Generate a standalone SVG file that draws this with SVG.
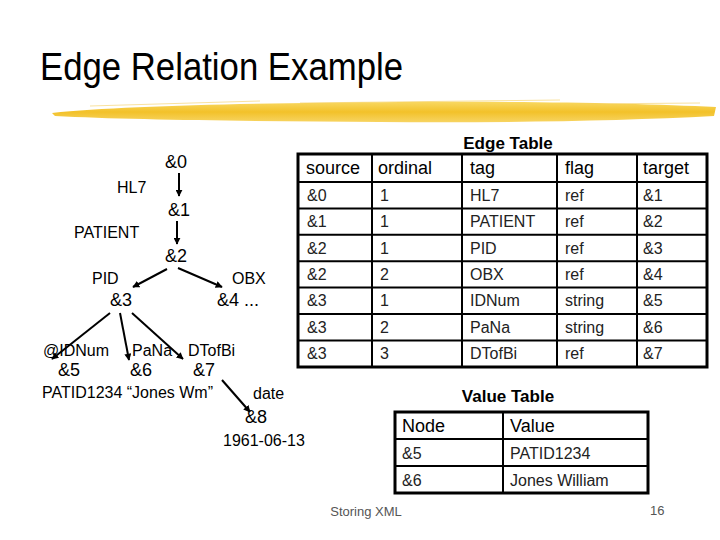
<svg xmlns="http://www.w3.org/2000/svg" width="720" height="540" viewBox="0 0 720 540">
<defs>
<linearGradient id="brush" x1="0" y1="0" x2="0" y2="1">
<stop offset="0" stop-color="#F8D65A"/>
<stop offset="0.5" stop-color="#F2BE1E"/>
<stop offset="1" stop-color="#F7D25A"/>
</linearGradient>
<marker id="ah" viewBox="0 0 10 10" refX="9" refY="5" markerWidth="7" markerHeight="7" markerUnits="userSpaceOnUse" orient="auto">
<path d="M0,0 L10,5 L0,10 z" fill="#000"/>
</marker>
<style>
.t{font-family:"Liberation Sans",Arial,sans-serif;fill:#000}
.node{font-size:18px}
.lbl{font-size:16px}
.hd{font-size:18px}
.cell{font-size:16px;fill:#222}
.cap{font-size:17px;font-weight:bold}
.edge{stroke:#000;stroke-width:2;fill:none;marker-end:url(#ah)}
.outer{fill:none;stroke:#000;stroke-width:3}
.inner{stroke:#000;stroke-width:2}
.foot{font-size:13px;fill:#555}
</style>
</defs>
<rect width="720" height="540" fill="#fff"/>
<text class="t" x="40" y="80" font-size="38" textLength="363" lengthAdjust="spacingAndGlyphs">Edge Relation Example</text>
<path d="M52,113 C120,106 250,103 400,102 C520,101 640,103 716,107 L714,116 C620,121 500,123 380,122 C250,121 130,120 55,116 Z" fill="url(#brush)" opacity="0.95"/>
<path d="M90,106 L260,101 M300,103 L560,100 M580,104 L700,103" stroke="#F6D060" stroke-width="1" opacity="0.6"/>

<g id="connectors">
<line class="edge" x1="179" y1="173" x2="179" y2="196"/>
<line class="edge" x1="177" y1="221" x2="177" y2="244"/>
<line class="edge" x1="167" y1="269" x2="133" y2="287"/>
<line class="edge" x1="178" y1="268" x2="222" y2="287"/>
<line class="edge" x1="110" y1="313" x2="52" y2="359"/>
<line class="edge" x1="120" y1="313" x2="129" y2="360"/>
<line class="edge" x1="132" y1="313" x2="183" y2="359"/>
<line class="edge" x1="222" y1="380" x2="250" y2="412"/>
</g>

<g id="n0"><text class="t node" x="165" y="168">&amp;0</text></g>
<g id="n1"><text class="t node" x="168" y="216">&amp;1</text></g>
<g id="n2"><text class="t node" x="165" y="262">&amp;2</text></g>
<g id="n3"><text class="t node" x="110" y="306">&amp;3</text></g>
<g id="n4"><text class="t node" x="217" y="306">&amp;4  ...</text></g>
<g id="n5"><text class="t node" x="58" y="376">&amp;5</text></g>
<g id="n6"><text class="t node" x="130" y="376">&amp;6</text></g>
<g id="n7"><text class="t node" x="193" y="376">&amp;7</text></g>
<g id="n8"><text class="t node" x="245" y="423">&amp;8</text></g>

<g id="labels">
<text class="t lbl" x="117" y="193">HL7</text>
<text class="t lbl" x="74" y="238">PATIENT</text>
<text class="t lbl" x="92" y="284">PID</text>
<text class="t lbl" x="232" y="284">OBX</text>
<text class="t lbl" x="43" y="356">@IDNum</text>
<text class="t lbl" x="132" y="356">PaNa</text>
<text class="t lbl" x="188" y="356">DTofBi</text>
<text class="t lbl" x="42" y="398">PATID1234 “Jones Wm”</text>
<text class="t lbl" x="253" y="399">date</text>
<text class="t lbl" x="223" y="446">1961-06-13</text>
</g>

<g id="edge-table">
<text class="t cap" x="508" y="149" text-anchor="middle">Edge Table</text>
<rect class="outer" x="298" y="154" width="409" height="213" fill="#fff"/>
<g class="inner">
<line x1="298" y1="182" x2="707" y2="182"/>
<line x1="298" y1="208.4" x2="707" y2="208.4"/>
<line x1="298" y1="234.8" x2="707" y2="234.8"/>
<line x1="298" y1="261.2" x2="707" y2="261.2"/>
<line x1="298" y1="287.6" x2="707" y2="287.6"/>
<line x1="298" y1="314" x2="707" y2="314"/>
<line x1="298" y1="340.4" x2="707" y2="340.4"/>
<line x1="372" y1="154" x2="372" y2="367"/>
<line x1="462" y1="154" x2="462" y2="367"/>
<line x1="557" y1="154" x2="557" y2="367"/>
<line x1="637" y1="154" x2="637" y2="367"/>
</g>
<g class="t hd">
<text x="306" y="174">source</text><text x="378" y="174">ordinal</text><text x="470" y="174">tag</text><text x="565" y="174">flag</text><text x="643" y="174">target</text>
</g>
<g class="t cell">
<text x="307" y="201">&amp;0</text><text x="380" y="201">1</text><text x="470" y="201">HL7</text><text x="565" y="201">ref</text><text x="643" y="201">&amp;1</text>
<text x="307" y="227">&amp;1</text><text x="380" y="227">1</text><text x="470" y="227">PATIENT</text><text x="565" y="227">ref</text><text x="643" y="227">&amp;2</text>
<text x="307" y="254">&amp;2</text><text x="380" y="254">1</text><text x="470" y="254">PID</text><text x="565" y="254">ref</text><text x="643" y="254">&amp;3</text>
<text x="307" y="280">&amp;2</text><text x="380" y="280">2</text><text x="470" y="280">OBX</text><text x="565" y="280">ref</text><text x="643" y="280">&amp;4</text>
<text x="307" y="306">&amp;3</text><text x="380" y="306">1</text><text x="470" y="306">IDNum</text><text x="565" y="306">string</text><text x="643" y="306">&amp;5</text>
<text x="307" y="333">&amp;3</text><text x="380" y="333">2</text><text x="470" y="333">PaNa</text><text x="565" y="333">string</text><text x="643" y="333">&amp;6</text>
<text x="307" y="359">&amp;3</text><text x="380" y="359">3</text><text x="470" y="359">DTofBi</text><text x="565" y="359">ref</text><text x="643" y="359">&amp;7</text>
</g>
</g>

<g id="value-table">
<text class="t cap" x="508" y="402" text-anchor="middle">Value Table</text>
<rect class="outer" x="395" y="412" width="253" height="81" fill="#fff"/>
<g class="inner">
<line x1="395" y1="439" x2="648" y2="439"/>
<line x1="395" y1="466" x2="648" y2="466"/>
<line x1="503" y1="412" x2="503" y2="493"/>
</g>
<g class="t hd"><text x="402" y="432">Node</text><text x="510" y="432">Value</text></g>
<g class="t cell">
<text x="402" y="459">&amp;5</text><text x="510" y="459">PATID1234</text>
<text x="402" y="486">&amp;6</text><text x="510" y="486">Jones William</text>
</g>
</g>

<text class="t foot" x="366" y="516" text-anchor="middle">Storing XML</text>
<text class="t foot" x="650" y="515">16</text>
</svg>
